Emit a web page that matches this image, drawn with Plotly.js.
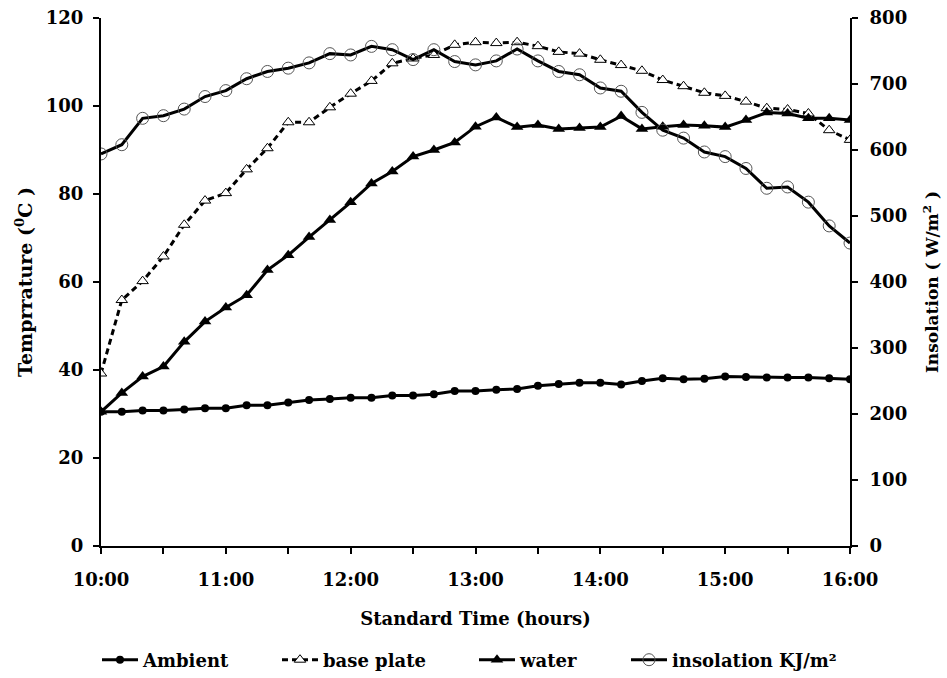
<!DOCTYPE html>
<html>
<head>
<meta charset="utf-8">
<script src="https://cdn.plot.ly/plotly-3.0.1.min.js"></script>
<style>html,body{margin:0;padding:0;background:#fff;}#chart{width:947px;height:678px;}</style>
</head>
<body>
<div id="chart"></div>
<script>
const times = ["10:00","10:10","10:20","10:30","10:40","10:50","11:00","11:10","11:20","11:30","11:40","11:50",
  "12:00","12:10","12:20","12:30","12:40","12:50","13:00","13:10","13:20","13:30","13:40","13:50",
  "14:00","14:10","14:20","14:30","14:40","14:50","15:00","15:10","15:20","15:30","15:40","15:50","16:00"];
const ambient = [30.5,30.5,30.8,30.8,31.0,31.3,31.3,32.0,32.0,32.6,33.2,33.4,33.7,33.7,34.2,34.2,34.5,35.2,35.2,35.5,35.7,36.4,36.8,37.1,37.1,36.7,37.5,38.1,37.9,38.0,38.5,38.4,38.3,38.3,38.3,38.1,37.9];
const basePlate = [39.2,55.9,60.2,65.8,73.0,78.5,80.2,85.6,90.4,96.3,96.3,99.7,102.8,105.7,109.7,110.8,111.6,113.9,114.5,114.3,114.5,113.6,112.3,111.9,110.5,109.3,108.0,105.9,104.5,103.0,102.3,101.0,99.5,99.2,98.3,94.5,92.3];
const water = [30.5,34.8,38.5,40.8,46.4,51.0,54.2,57.0,62.7,66.1,70.2,74.1,78.1,82.4,85.1,88.5,90.0,91.7,95.3,97.4,95.2,95.7,94.8,95.0,95.2,97.7,94.8,95.3,95.7,95.5,95.2,96.8,98.5,98.3,97.2,97.2,96.8];
const insolation = [594,608,648,652,662,681,690,708,719,724,732,746,744,757,752,737,752,734,729,735,753,735,719,714,694,689,657,630,618,597,590,572,542,544,521,485,459];
const tickTimes = ["10:00","10:30","11:00","11:30","12:00","12:30","13:00","13:30","14:00","14:30","15:00","15:30","16:00"];
const tickLabels = ["10:00","","11:00","","12:00","","13:00","","14:00","","15:00","","16:00"];

const FONT = "DejaVu Serif, Liberation Serif, serif";
const traces = [
  {x: times, y: ambient, name: "Ambient", type: "scatter", mode: "lines+markers", legend: "legend",
   line: {color: "#000", width: 3}, marker: {symbol: "circle", size: 8, color: "#000"}},
  {x: times, y: basePlate, name: "base plate", type: "scatter", mode: "lines+markers", legend: "legend2",
   line: {color: "#000", width: 3, dash: "6px,4px"},
   marker: {symbol: "triangle-up", size: 10, color: "#fff", line: {color: "#000", width: 1}}},
  {x: times, y: water, name: "water", type: "scatter", mode: "lines+markers", legend: "legend3",
   line: {color: "#000", width: 3}, marker: {symbol: "triangle-up", size: 11, color: "#000"}},
  {x: times, y: insolation, name: "insolation KJ/m²", type: "scatter", mode: "lines+markers", yaxis: "y2", legend: "legend4",
   line: {color: "#000", width: 3},
   marker: {symbol: "circle", size: 12, color: "rgba(255,255,255,0)", line: {color: "#555", width: 1}}}
];

const PL = 101, PW = 749, H = 678;
function legendAt(px) {
  return {orientation: "h", x: (px - PL) / PW, xanchor: "left",
    yref: "container", y: 1 - 660 / H, yanchor: "middle",
    bgcolor: "rgba(0,0,0,0)", itemwidth: 36,
    font: {family: FONT, size: 18, weight: "bold"}};
}

const layout = {
  width: 947, height: 678,
  margin: {l: 101, r: 97, t: 18, b: 132, autoexpand: false},
  paper_bgcolor: "#fff", plot_bgcolor: "#fff",
  font: {family: FONT, color: "#000", weight: "bold"},
  showlegend: true,
  legend: legendAt(97),
  legend2: legendAt(277),
  legend3: legendAt(474),
  legend4: legendAt(626),
  xaxis: {
    type: "category", range: [0, 36], categoryorder: "array", categoryarray: times,
    tickmode: "array", tickvals: tickTimes, ticktext: tickLabels,
    ticks: "outside", ticklen: 6, tickwidth: 2, tickcolor: "#000", ticklabelstandoff: 10,
    showline: true, linecolor: "#000", linewidth: 2, showgrid: false, zeroline: false,
    tickfont: {family: FONT, size: 18, weight: "bold"},
    title: {text: "Standard Time (hours)", font: {family: FONT, size: 18, weight: "bold"}, standoff: 24}
  },
  yaxis: {
    range: [0, 120], dtick: 20, tick0: 0,
    ticks: "outside", ticklen: 6, tickwidth: 2, tickcolor: "#000", ticklabelstandoff: 6,
    showline: true, linecolor: "#000", linewidth: 2, showgrid: false, zeroline: false,
    tickfont: {family: FONT, size: 18, weight: "bold"},
    title: {text: "Temprrature (<sup>0</sup>C )", font: {family: FONT, size: 19, weight: "bold"}, standoff: 8}
  },
  yaxis2: {
    range: [0, 800], dtick: 100, tick0: 0, overlaying: "y", side: "right",
    ticks: "outside", ticklen: 6, tickwidth: 2, tickcolor: "#000", ticklabelstandoff: 8,
    showline: true, linecolor: "#000", linewidth: 2, showgrid: false, zeroline: false,
    tickfont: {family: FONT, size: 18, weight: "bold"},
    title: {text: "Insolation ( W/m<sup>2</sup> )", font: {family: FONT, size: 17, weight: "bold"}, standoff: 20}
  }
};

Plotly.newPlot("chart", traces, layout, {displayModeBar: false, staticPlot: true});
</script>
</body>
</html>
